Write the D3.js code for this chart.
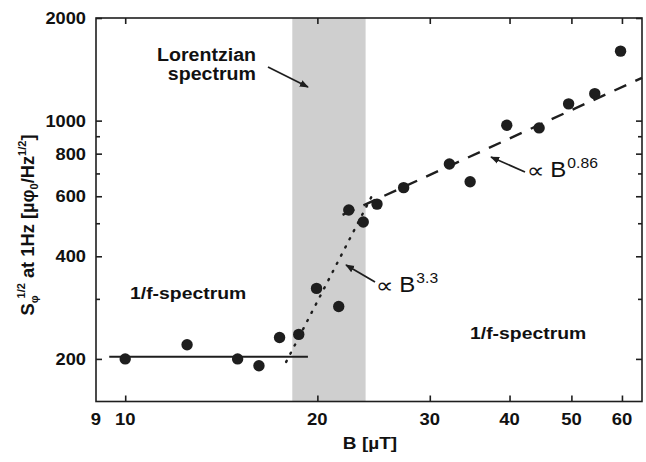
<!DOCTYPE html>
<html><head><meta charset="utf-8">
<script src="https://cdn.jsdelivr.net/npm/d3@7"></script>
<style>
body{margin:0;background:#fff}
svg{display:block}
text{font-family:"Liberation Sans",Arial,Helvetica,sans-serif;fill:#111}
</style>
</head><body>
<svg id="chart" width="646" height="462"></svg>
<script>
// ---- data ----
const fieldB = [10, 12.5, 15.0, 16.2, 17.45, 18.7, 19.94, 21.6, 22.4, 23.6, 24.8, 27.3, 32.2, 34.7, 39.6, 44.5, 49.5, 54.4, 59.7];
const noiseS = [200, 220, 200, 191, 231, 236, 322, 285, 547, 504, 569, 636, 746, 662, 969, 952, 1120, 1200, 1599];
const xTickValues = [10, 20, 30, 40, 50, 60];
const xTickLabels = ["10", "20", "30", "40", "50", "60"];
const xDomainStartLabel = "9";
const yTickValues = [200, 400, 600, 800, 1000, 2000];
const yTickLabels = ["200", "400", "600", "800", "1000", "2000"];
const yMinorValues = [300, 500, 700, 900];
const lorentzBandB = [18.27, 23.8];
const flatFitB = [9.44, 19.33];
const flatFitS = [203, 203];
const steepFitB = [17.87, 24.4];
const steepFitS = [196, 606];
const highFitB = [21.9, 64.5];
const highFitS = [529, 1335];

// ---- layout ----
const svg = d3.select("#chart");
const L = 96, R = 642, T = 18, Bm = 401.5;
const x = d3.scaleLog().domain([9, 64.5]).range([L, R]);
const y = d3.scaleLog().domain([150, 2000]).range([Bm, T]);
const ink = "#1e1e1e";
const SX = 1.12; // horizontal stretch of the reference lettering

function htext(g, tx, ty, size, anchor, bold) {
  return g.append("text")
    .attr("transform", `translate(${tx},${ty}) scale(${SX},1)`)
    .attr("text-anchor", anchor || "start")
    .attr("font-size", size)
    .attr("font-weight", bold ? "bold" : "normal");
}

// shaded band
svg.append("rect")
  .attr("x", x(lorentzBandB[0])).attr("y", T)
  .attr("width", x(lorentzBandB[1]) - x(lorentzBandB[0]))
  .attr("height", Bm - T)
  .attr("fill", "#cfcfcf");

// axes (inward ticks)
const gB = svg.append("g").attr("transform", `translate(0,${Bm})`)
  .call(d3.axisTop(x).tickValues(xTickValues).tickSize(6).tickFormat(""));
const gT = svg.append("g").attr("transform", `translate(0,${T})`)
  .call(d3.axisBottom(x).tickValues(xTickValues).tickSize(6).tickFormat(""));
const gL = svg.append("g").attr("transform", `translate(${L},0)`)
  .call(d3.axisRight(y).tickValues(yTickValues).tickSize(6).tickFormat(""));
const gLm = svg.append("g").attr("transform", `translate(${L},0)`)
  .call(d3.axisRight(y).tickValues(yMinorValues).tickSize(4).tickFormat(""));
const gR = svg.append("g").attr("transform", `translate(${R},0)`)
  .call(d3.axisLeft(y).tickValues(yTickValues).tickSize(6).tickFormat(""));
const gRm = svg.append("g").attr("transform", `translate(${R},0)`)
  .call(d3.axisLeft(y).tickValues(yMinorValues).tickSize(4).tickFormat(""));
[gB, gT, gL, gLm, gR, gRm].forEach(g => {
  g.select(".domain").remove();
  g.selectAll(".tick line").attr("stroke", ink).attr("stroke-width", 1.6);
});

// frame
svg.append("rect").attr("x", L).attr("y", T).attr("width", R - L).attr("height", Bm - T)
  .attr("fill", "none").attr("stroke", ink).attr("stroke-width", 1.6);

// tick labels
const lab = svg.append("g");
xTickValues.forEach((d, i) => htext(lab, x(d), 425, 16.5, "middle", true).text(xTickLabels[i]));
htext(lab, x(9), 425, 16.5, "middle", true).text(xDomainStartLabel);
yTickValues.forEach((d, i) => htext(lab, 86, y(d) + 6, 16.3, "end", true).text(yTickLabels[i]));

// axis titles
htext(svg, 370, 449, 17, "middle", true).text("B [µT]");

const yl = svg.append("text")
  .attr("transform", "translate(34,225) rotate(-90)")
  .attr("text-anchor", "middle").attr("font-size", 18.3).attr("font-weight", "bold");
yl.append("tspan").text("S");
yl.append("tspan").attr("font-size", 11).attr("dy", 4).text("φ");
yl.append("tspan").attr("font-size", 11).attr("dy", -13).attr("dx", -3).text("1/2");
yl.append("tspan").attr("dy", 9).text(" at 1Hz  [µφ");
yl.append("tspan").attr("font-size", 11).attr("dy", 4).text("0");
yl.append("tspan").attr("dy", -4).text("/Hz");
yl.append("tspan").attr("font-size", 11).attr("dy", -8).text("1/2");
yl.append("tspan").attr("dy", 8).text("]");

// fit lines
const line = d3.line().x(d => x(d[0])).y(d => y(d[1]));
svg.append("path").datum(flatFitB.map((b, i) => [b, flatFitS[i]]))
  .attr("d", line).attr("stroke", ink).attr("stroke-width", 2).attr("fill", "none");
svg.append("path").datum(steepFitB.map((b, i) => [b, steepFitS[i]]))
  .attr("d", line).attr("stroke", ink).attr("stroke-width", 2.4).attr("fill", "none")
  .attr("stroke-dasharray", "1.2,8").attr("stroke-linecap", "round");
svg.append("path").datum(highFitB.map((b, i) => [b, highFitS[i]]))
  .attr("d", line).attr("stroke", ink).attr("stroke-width", 2.4).attr("fill", "none")
  .attr("stroke-dasharray", "13,10");

// points
svg.append("g").selectAll("circle").data(fieldB).join("circle")
  .attr("cx", d => x(d)).attr("cy", (d, i) => y(noiseS[i])).attr("r", 5.7).attr("fill", ink);

// annotations
const defs = svg.append("defs");
defs.append("marker").attr("id", "ah").attr("viewBox", "0 0 10 10")
  .attr("refX", 9).attr("refY", 5).attr("markerWidth", 9).attr("markerHeight", 9)
  .attr("markerUnits", "userSpaceOnUse").attr("orient", "auto")
  .append("path").attr("d", "M0,1 L10,5 L0,9 Z").attr("fill", ink);

function arrow(x1, y1, x2, y2) {
  svg.append("line").attr("x1", x1).attr("y1", y1).attr("x2", x2).attr("y2", y2)
    .attr("stroke", ink).attr("stroke-width", 1.8).attr("marker-end", "url(#ah)");
}
htext(svg, 256, 61, 17.5, "end", true).text("Lorentzian");
htext(svg, 256, 80, 17.5, "end", true).text("spectrum");
arrow(268, 67, 308, 87);

htext(svg, 130, 299, 17.3, "start", true).text("1/f-spectrum");
htext(svg, 470, 339, 17.3, "start", true).text("1/f-spectrum");

function prop(tx, ty, exp) {
  const t = htext(svg, tx, ty, 21.5, "start", false);
  t.append("tspan").attr("font-family", "DejaVu Sans").attr("font-size", 22).attr("dy", 1).text("∝");
  t.append("tspan").attr("dy", -1).attr("dx", 5).text("B");
  t.append("tspan").attr("font-size", 14).attr("dy", -9).attr("dx", 1).text(exp);
}
prop(527, 177, "0.86");
arrow(525, 172, 491, 157);
prop(376, 292, "3.3");
arrow(375, 282, 346, 265);
</script>
</body></html>
